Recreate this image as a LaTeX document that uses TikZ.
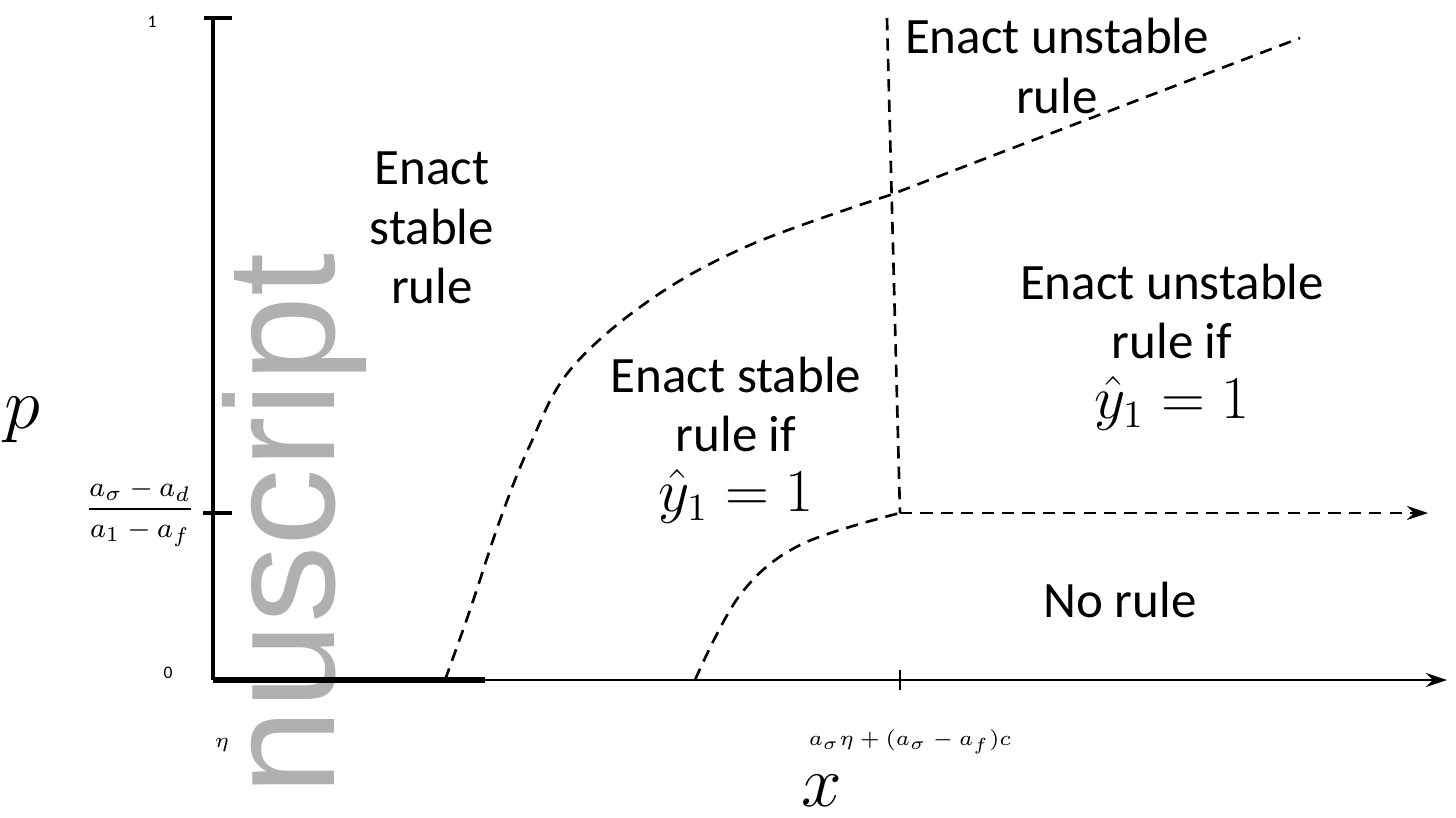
\documentclass[tikz,border=0pt]{standalone}
\usepackage{fontspec}
\setmainfont{Carlito}
\newfontfamily\wmfont{Liberation Sans}
\usetikzlibrary{arrows.meta}
\definecolor{wmgray}{RGB}{176,176,176}
\begin{document}
\begin{tikzpicture}[x=0.01cm,y=-0.01cm,
    boundary/.style={line width=0.75pt, dash pattern=on 3.5pt off 2.3pt},
    region/.style={font=\fontsize{14.5}{17}\selectfont, align=center},
    ticklab/.style={font=\fontsize{6}{7}\selectfont, inner sep=1pt},
    axislab/.style={font=\fontsize{20}{20}\selectfont, inner sep=0pt},
    tip/.style={-{Stealth[length=6pt,width=4pt]}}]
    \useasboundingbox (0,0) rectangle (1456,817);

    % watermark
    \node[rotate=90, anchor=base east, inner sep=0pt, text=wmgray,
      font=\wmfont\fontsize{44}{44}\selectfont] (wm) at (334,253) {nuscript};

    % axes
    \coordinate (O) at (213,680);
    \coordinate (Ytop) at (213,18);
    \coordinate (Xend) at (1447,680);
    \coordinate (Kx) at (900,680);
    \coordinate (C) at (900,513);
    \draw[line width=0.9pt] (Ytop) -- (O);
    \draw[line width=0.6pt, tip] (O) -- (Xend);
    \draw[line width=1.5pt] (O) -- (485,680);

    % ticks
    \draw[line width=1.3pt] (204,18) -- (232,18);
    \draw[line width=1.1pt] (203,513) -- (232,513);
    \draw[line width=0.5pt] (Kx) ++(0,-10) -- ++(0,20);

    % tick labels
    \node[font=\tiny] (one) at (152,22) {1};
    \node[font=\tiny] (zero) at (168,673) {0};
    \node[ticklab] (eta) at (222,745) {$\eta$};
    \node[font=\fontsize{8}{9}\selectfont] (pfrac) at (140,513)
      {$\displaystyle\frac{a_\sigma - a_d}{a_1 - a_f}$};
    \node[ticklab] (xtick) at (910,742) {$a_\sigma\eta + (a_\sigma - a_f)c$};
    \node[axislab] (plab) at (22,420) {$p$};
    \node[axislab] (xlab) at (822,791) {$x$};

    % boundaries
    \draw[boundary] plot[smooth, tension=0.6] coordinates
      {(445,680) (470,610) (500,520) (530,445) (570,370) (650,300) (750,245) (890,195)}
      -- (1300,38);
    \draw[boundary] plot[smooth, tension=0.6] coordinates
      {(695,680) (740,595) (800,545) (900,513)};
    \draw[boundary] (887,18) -- (C);
    \draw[boundary, tip] (C) -- (1428,513);

    % regions
    \node[region] (stable) at (432,228) {Enact\\stable\\rule};
    \node[region] (unstable) at (1057,66) {Enact unstable\\rule};
    \node[region] (stableif) at (736,440)
      {Enact stable\\rule if\\{\fontsize{16}{17}\selectfont$\hat{y}_1 = 1$}};
    \node[region] (unstableif) at (1172,347)
      {Enact unstable\\rule if\\{\fontsize{16}{17}\selectfont$\hat{y}_1 = 1$}};
    \node[region] (norule) at (1120,600) {No rule};
\end{tikzpicture}
\end{document}
